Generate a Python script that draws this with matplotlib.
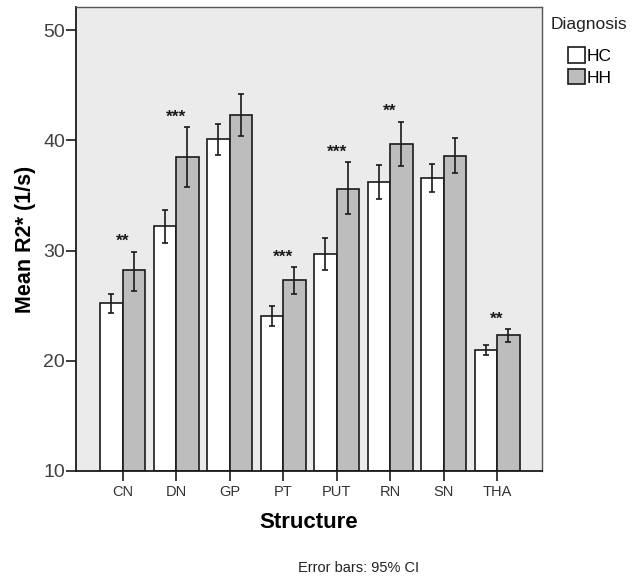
import matplotlib
matplotlib.use("Agg")
import matplotlib.pyplot as plt
from matplotlib.patches import Patch
import numpy as np

plt.rcParams["font.family"] = ["Liberation Sans", "DejaVu Sans"]

structures = ["CN", "DN", "GP", "PT", "PUT", "RN", "SN", "THA"]
# mean R2* per group
hc_mean = [25.2, 32.2, 40.1, 24.1, 29.7, 36.2, 36.6, 21.0]
hh_mean = [28.2, 38.5, 42.3, 27.3, 35.6, 39.7, 38.6, 22.3]
# 95% CI bounds
hc_low = [24.3, 30.7, 38.7, 23.2, 28.25, 34.7, 35.3, 20.55]
hc_high = [26.1, 33.7, 41.5, 25.0, 31.1, 37.8, 37.9, 21.4]
hh_low = [26.35, 35.8, 40.4, 26.1, 33.3, 37.65, 37.0, 21.7]
hh_high = [29.9, 41.2, 44.2, 28.5, 38.0, 41.7, 40.2, 22.85]
# significance marks
stars = ["**", "***", "", "***", "***", "**", "", "**"]

hc_mean, hh_mean = np.array(hc_mean), np.array(hh_mean)
hc_err = [hc_mean - np.array(hc_low), np.array(hc_high) - hc_mean]
hh_err = [hh_mean - np.array(hh_low), np.array(hh_high) - hh_mean]

fig = plt.figure(figsize=(6.44, 5.76), dpi=100)
ax = fig.add_axes([0.118, 0.1823, 0.7236, 0.8055])
ax.set_facecolor("#ebebeb")

x = np.arange(len(structures))
w = 0.42
base = 10
ax.bar(x - w / 2, hc_mean - base, w, bottom=base, color="white", edgecolor="#1a1a1a", linewidth=1.2, zorder=2)
ax.bar(x + w / 2, hh_mean - base, w, bottom=base, color="#bdbdbd", edgecolor="#1a1a1a", linewidth=1.2, zorder=2)
ax.errorbar(x - w / 2, hc_mean, yerr=hc_err, fmt="none", ecolor="#1a1a1a", elinewidth=1.2, capsize=2.5, capthick=1.2, zorder=3)
ax.errorbar(x + w / 2, hh_mean, yerr=hh_err, fmt="none", ecolor="#1a1a1a", elinewidth=1.2, capsize=2.5, capthick=1.2, zorder=3)

for i, s in enumerate(stars):
    if s:
        ax.annotate(s, (x[i], hh_high[i]), xytext=(0, 2), textcoords="offset points",
                    ha="center", va="bottom", fontsize=12.5, fontweight="bold", color="#1a1a1a")

ax.set_xlim(-0.87, 7.84)
ax.set_ylim(10, 52.1)
ax.set_yticks([10, 20, 30, 40, 50])
ax.set_xticks(x)
ax.set_xticklabels(structures)
ax.tick_params(axis="y", direction="out", length=7, width=1.2, labelsize=14, pad=1, colors="#1a1a1a", labelcolor="#404040")
ax.tick_params(axis="x", direction="out", length=7, width=1.2, labelsize=10.5, pad=3, colors="#1a1a1a", labelcolor="#333333")
for side in ["top", "right"]:
    ax.spines[side].set_color("#555555")
    ax.spines[side].set_linewidth(1.0)
for side in ["left", "bottom"]:
    ax.spines[side].set_color("#1a1a1a")
    ax.spines[side].set_linewidth(1.3)

ax.set_ylabel("Mean R2* (1/s)", fontsize=15.5, fontweight="bold", labelpad=5)
fig.text(309 / 644, 1 - 523 / 576, "Structure", fontsize=16, fontweight="bold", ha="center", va="center")
fig.text(359 / 644, 1 - 568 / 576, "Error bars: 95% CI", fontsize=10.5, ha="center", va="center", color="#222222")

fig.text(551 / 644, 1 - 25 / 576, "Diagnosis", fontsize=12.5, ha="left", va="center", color="#222222")
handles = [Patch(facecolor="white", edgecolor="#1a1a1a", linewidth=1.2, label="HC"),
           Patch(facecolor="#bdbdbd", edgecolor="#1a1a1a", linewidth=1.2, label="HH")]
fig.legend(handles=handles, loc="upper left", bbox_to_anchor=(568 / 644, 1 - 47 / 576), frameon=False,
           fontsize=12.5, handlelength=1.0, handleheight=1.0, handletextpad=0.1, labelspacing=0.3,
           borderpad=0, borderaxespad=0)

fig.savefig("out.png", dpi=100)
